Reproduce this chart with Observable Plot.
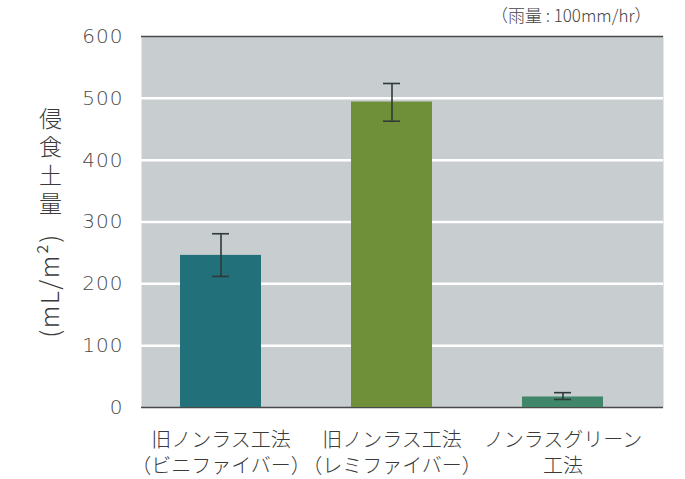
<!DOCTYPE html>
<html>
<head>
<meta charset="utf-8">
<script src="https://cdn.jsdelivr.net/npm/d3@7"></script>
<script src="https://cdn.jsdelivr.net/npm/@observablehq/plot@0.6"></script>
<style>
  html, body { margin: 0; padding: 0; background: #fff; }
</style>
</head>
<body>
<div id="chart"></div>
<script>
const categories = ["旧ノンラス工法\n（ビニファイバー）", "旧ノンラス工法\n（レミファイバー）", "ノンラスグリーン\n工法"];
const values = [246, 494, 17];
const errLow = [212, 463, 13];
const errHigh = [281, 524, 24];
const barColors = ["#21707a", "#6f9038", "#3f866a"];
const yTicks = [0, 100, 200, 300, 400, 500, 600];
const gridLines = [100, 200, 300, 400, 500];
const note = "（雨量 : 100mm/hr）";
const yLabelKanji = "侵\n食\n土\n量";
const yLabelUnit = "(mL/m²)";

const data = categories.map((c, i) => ({cat: c, value: values[i], lo: errLow[i], hi: errHigh[i], color: barColors[i]}));

const font = "'Noto Sans CJK JP', 'Noto Sans', sans-serif";

const chart = Plot.plot({
  width: 685,
  height: 479,
  marginTop: 36,
  marginBottom: 72,
  marginLeft: 141,
  marginRight: 22,
  style: {fontFamily: font, color: "#3a3a3a", background: "#fff", fontWeight: 300},
  x: {domain: categories, range: [90, 694], padding: 0.526, axis: null},
  y: {domain: [0, 600], axis: null},
  marks: [
    Plot.frame({fill: "#c8cdcf", stroke: null}),
    Plot.ruleY(gridLines, {stroke: "#fff", strokeWidth: 2.5}),
    Plot.ruleY([0, 600], {stroke: "#4a4a4a", strokeWidth: 1.5}),
    Plot.barY(data, {x: "cat", y: "value", fill: "color"}),
    Plot.ruleX(data, {x: "cat", y1: "lo", y2: "hi", stroke: "#2e3a38", strokeWidth: 1.6}),
    Plot.tickY(data, {x: "cat", y: "lo", stroke: "#2e3a38", strokeWidth: 1.6, insetLeft: 32, insetRight: 32}),
    Plot.tickY(data, {x: "cat", y: "hi", stroke: "#2e3a38", strokeWidth: 1.6, insetLeft: 32, insetRight: 32}),
    Plot.axisY({ticks: yTicks, tickSize: 0, tickPadding: 18, fontSize: 20, fontFamily: "'DejaVu Sans', sans-serif", fill: "#4a4a4a", label: null}),
    Plot.axisX({tickSize: 0, tickPadding: 21, fontSize: 20, lineHeight: 1.3, label: null}),
    Plot.text([note], {frameAnchor: "top-right", dx: -12, dy: -20, lineAnchor: "middle", textAnchor: "end", fontSize: 17, fill: "#444"}),
    Plot.text([yLabelKanji], {frameAnchor: "top-left", dx: -91, dy: 71, lineAnchor: "top", textAnchor: "middle", lineHeight: 1.22, fontSize: 23, fill: "#3a3a3a"}),
    Plot.text([yLabelUnit], {frameAnchor: "top-left", dx: -91, dy: 249, rotate: -90, lineAnchor: "middle", textAnchor: "middle", fontSize: 25, fill: "#3a3a3a"})
  ]
});

document.getElementById("chart").appendChild(chart);
d3.select(chart).selectAll('g[aria-label="y-axis tick label"] text').style("letter-spacing", "1px");
d3.select(chart).selectAll('g[aria-label="text"] text').filter(function() { return this.textContent === yLabelUnit; }).style("letter-spacing", "1.5px");
</script>
</body>
</html>
